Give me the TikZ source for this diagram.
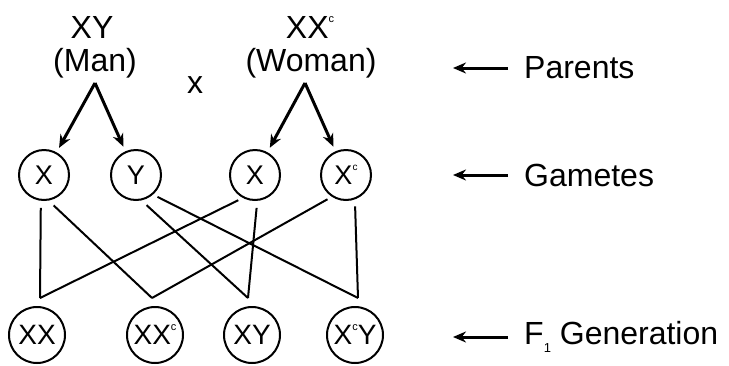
\documentclass[tikz,border=0pt]{standalone}
\usepackage{fontspec}
\setmainfont{Liberation Sans}
\usetikzlibrary{arrows.meta}
\newcommand{\supc}[1]{\raisebox{0.5em}{\fontsize{#1}{#1}\selectfont c}}
\begin{document}
\begin{tikzpicture}[x=1pt,y=-1pt,
 lbl/.style={font=\fontsize{32}{36}\selectfont, inner sep=1pt},
 gam/.style={circle,draw,line width=2pt,minimum size=50pt,inner sep=0pt,font=\fontsize{27}{28}\selectfont},
 off/.style={circle,draw,line width=2pt,minimum size=56pt,inner sep=0pt,font=\fontsize{28}{30}\selectfont},
 link/.style={line width=2pt},
 arr/.style={line width=3pt,-{Stealth[length=13pt,width=11pt]}},
]
\useasboundingbox (0,0) rectangle (729,365);
% parents
\node[lbl] (xy) at (92,27) {XY};
\node[lbl] (man) at (95,63) {(Man)};
\node[lbl] (cross) at (195,85) {x};
\node[lbl] (xxc) at (310,27) {XX\supc{11}};
\node[lbl] (woman) at (311,63) {(Woman)};
\coordinate (ma) at (95,83);
\coordinate (wa) at (305,83);
% gametes
\node[gam] (g1) at (44,175) {X};
\node[gam] (g2) at (136,175) {Y};
\node[gam] (g3) at (255,175) {X};
\node[gam] (g4) at (346,175) {X\supc{10}};
% offspring
\node[off] (o1) at (37,335) {XX};
\node[off] (o2) at (155,335) {XX\supc{11}};
\node[off] (o3) at (252,335) {XY};
\node[off] (o4) at (355,335) {X\supc{11}Y};
\coordinate (j1) at (40,298);
\coordinate (j2) at (152,298);
\coordinate (j3) at (248,298);
\coordinate (j4) at (358,298);
% arrows parents -> gametes
\draw[arr, shorten >=5pt] (ma) -- (g1);
\draw[arr, shorten >=5pt] (ma) -- (g2);
\draw[arr, shorten >=5pt] (wa) -- (g3);
\draw[arr, shorten >=5pt] (wa) -- (g4);
% crossing lines
\draw[link, shorten <=7pt] (g1.-97) -- (j1);
\draw[link, shorten <=7pt] (g1.-80) -- (j2);
\draw[link, shorten <=7pt] (g2.-78) -- (j3);
\draw[link, shorten <=5pt] (g2.-49) -- (j4);
\draw[link, shorten <=5pt] (g3.-118) -- (j1);
\draw[link, shorten <=7pt] (g3.-85) -- (j3);
\draw[link, shorten <=5pt] (g4.-123) -- (j2);
\draw[link, shorten <=7pt] (g4.-70) -- (j4);
% right labels
\node[lbl, anchor=west] (par) at (523,68) {Parents};
\node[lbl, anchor=west] (gmt) at (523,175) {Gametes};
\node[lbl, anchor=west] (f1) at (523,337) {F\raisebox{-0.25em}{\fontsize{13}{13}\selectfont 1} Generation};
\coordinate (pa) at (453,68);
\coordinate (ga) at (453,175);
\coordinate (fa) at (453,337);
\draw[arr, shorten <=15pt] (par.west) -- (pa);
\draw[arr, shorten <=15pt] (gmt.west) -- (ga);
\draw[arr, shorten <=15pt] (f1.west) -- (fa);
\end{tikzpicture}
\end{document}
